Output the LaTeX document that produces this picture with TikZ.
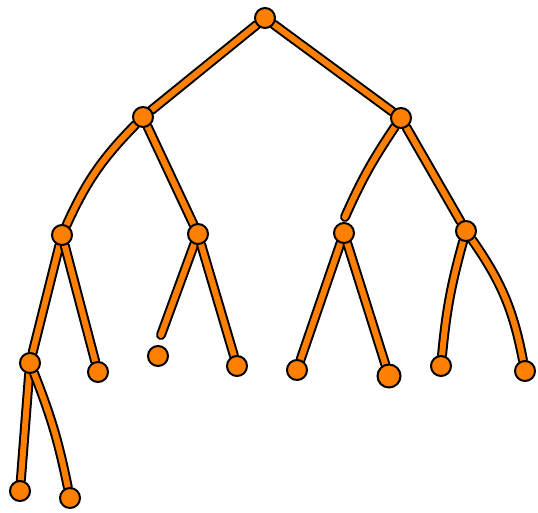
\documentclass[tikz,border=0pt]{standalone}
\usetikzlibrary{backgrounds}
\definecolor{treeorange}{RGB}{255,128,0}
\begin{document}
\begin{tikzpicture}[
        x=1pt, y=-1pt,
        vert/.style={circle, draw=black, fill=treeorange, line width=2pt, minimum size=20pt, inner sep=0pt},
        edge/.style={line width=2pt, double=treeorange, double distance=6pt, line cap=round}
    ]
        \useasboundingbox (0,0) rectangle (538,512);

        % Root and first level
        \node[vert] (root) at (265,18) {};
        \node[vert] (l) at (143,117) {};
        \node[vert] (r) at (401,118) {};

        % Second level
        \node[vert] (ll) at (62,235) {};
        \node[vert] (lr) at (198,234) {};
        \node[vert] (rl) at (344,233) {};
        \node[vert] (rr) at (466,231) {};

        % Third level
        \node[vert] (lll) at (30,363) {};
        \node[vert] (llr) at (98,372) {};
        \node[vert] (lrl) at (158,356) {};
        \node[vert] (lrr) at (237,366) {};
        \node[vert] (rll) at (297,370) {};
        \node[vert, minimum size=23pt] (rlr) at (389,376) {};
        \node[vert] (rrl) at (441,366) {};
        \node[vert] (rrr) at (525,371) {};

        % Fourth level
        \node[vert] (llll) at (20,491) {};
        \node[vert] (lllr) at (70,498) {};

        % Loose ends
        \coordinate (lrlend) at (161,335);
        \coordinate (rlend) at (345,217);

        % Edges
        \begin{scope}[on background layer]
        \draw[edge] (root) -- (l);
        \draw[edge] (root) -- (r);
        \draw[edge] (l) to[bend right=10] (ll);
        \draw[edge] (l) -- (lr);
        \draw[edge] (r) to[bend right=5] (rlend);
        \draw[edge] (r) -- (rr);
        \draw[edge] (ll) -- (lll);
        \draw[edge] (ll) -- (llr);
        \draw[edge] (lr) -- (lrlend);
        \draw[edge] (lr) -- (lrr);
        \draw[edge] (rl) -- (rll);
        \draw[edge] (rl) -- (rlr);
        \draw[edge] (rr) to[bend right=5] (rrl);
        \draw[edge] (rr) to[bend left=12] (rrr);
        \draw[edge] (lll) -- (llll);
        \draw[edge] (lll) to[bend left=5] (lllr);
        \end{scope}

    \end{tikzpicture}
\end{document}
